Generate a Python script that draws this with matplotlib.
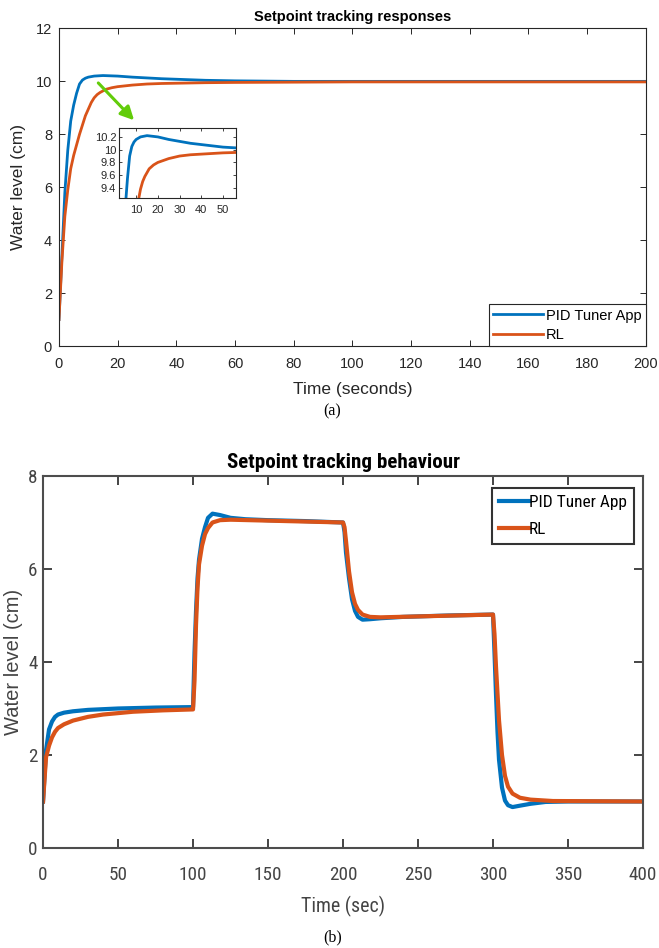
import numpy as np
import matplotlib.pyplot as plt
from matplotlib import font_manager
from matplotlib.font_manager import FontProperties

plt.rcParams['font.family'] = ['Liberation Sans', 'DejaVu Sans']

# (a) step response, setpoint 10 cm
t_a_pid = [0, 1, 2, 3, 4, 5, 6, 7, 8, 9, 10, 12, 15, 20, 25, 30, 35, 40, 45, 50,
           55, 60, 70, 80, 100, 150, 200]
pid_a = [1.0, 3.4, 5.8, 7.4, 8.5, 9.1, 9.55, 9.9, 10.05, 10.12, 10.16, 10.2, 10.22,
         10.2, 10.16, 10.13, 10.1, 10.08, 10.06, 10.04, 10.03, 10.02, 10.01, 10.0,
         10.0, 10.0, 10.0]
t_a_rl = [0, 1, 2, 3, 4, 5, 6, 7, 8, 9, 10, 11, 12, 13, 14, 16, 18, 20, 25, 30,
          35, 40, 50, 60, 80, 100, 150, 200]
rl_a = [1.0, 3.2, 4.9, 5.9, 6.7, 7.2, 7.6, 8.0, 8.35, 8.7, 8.95, 9.2, 9.38, 9.5,
        9.58, 9.7, 9.76, 9.8, 9.86, 9.9, 9.92, 9.93, 9.95, 9.96, 9.97, 9.98, 9.98, 9.98]

# (b) multi-step setpoint tracking
t_b_pid = [0, 2, 4, 6, 8, 10, 14, 20, 30, 50, 75, 100,
           101, 102, 103, 104, 106, 108, 110, 113, 118, 125, 135, 150, 175, 200,
           201, 202, 204, 206, 208, 210, 213, 218, 225, 240, 270, 300,
           301, 302, 303, 304, 306, 308, 310, 313, 318, 325, 335, 350, 400]
pid_b = [1.0, 2.1, 2.55, 2.72, 2.82, 2.87, 2.91, 2.94, 2.97, 3.0, 3.02, 3.03,
         4.2, 5.1, 5.8, 6.2, 6.65, 6.9, 7.1, 7.19, 7.16, 7.1, 7.07, 7.05, 7.03, 7.0,
         6.8, 6.35, 5.8, 5.35, 5.1, 4.97, 4.91, 4.92, 4.94, 4.97, 5.0, 5.02,
         4.2, 3.3, 2.5, 1.9, 1.3, 1.02, 0.92, 0.88, 0.91, 0.95, 0.99, 1.0, 1.0]
t_b_rl = [0, 2, 4, 6, 8, 10, 14, 20, 30, 40, 60, 80, 100,
          101, 102, 103, 104, 106, 108, 110, 113, 118, 125, 150, 175, 200,
          201, 202, 204, 206, 208, 210, 213, 218, 225, 250, 300,
          301, 302, 304, 306, 308, 310, 313, 318, 325, 340, 400]
rl_b = [1.0, 1.95, 2.2, 2.38, 2.5, 2.58, 2.66, 2.74, 2.82, 2.87, 2.93, 2.96, 2.98,
        3.6, 4.8, 5.6, 6.1, 6.5, 6.75, 6.88, 7.0, 7.05, 7.06, 7.04, 7.02, 7.0,
        6.9, 6.6, 5.95, 5.5, 5.25, 5.12, 5.02, 4.97, 4.96, 4.98, 5.02,
        4.6, 3.9, 2.75, 2.0, 1.55, 1.32, 1.17, 1.08, 1.04, 1.01, 1.0]

labels = ['PID Tuner App', 'RL']
BLUE = '#0072BD'
ORANGE = '#D95319'
DARK = '#262626'
GRAY = '#444444'


def find_font(bold):
    # a narrow sans if one is installed, else plain Liberation Sans
    for name in ['Liberation Sans Narrow', 'Arial Narrow', 'Roboto Condensed',
                 'Open Sans Condensed']:
        for f in font_manager.fontManager.ttflist:
            w = f.weight
            is_bold = w == 'bold' or (isinstance(w, int) and w >= 600)
            if f.name == name and is_bold == bold and f.style == 'normal':
                return FontProperties(fname=f.fname)
    return FontProperties(family='Liberation Sans', weight='bold' if bold else 'normal')


fig = plt.figure(figsize=(6.59, 9.48), dpi=100)
renderer = fig.canvas.get_renderer()


def fitted(text, width_px, bold=False):
    # font size that makes the text about width_px wide
    fp = find_font(bold)
    fp.set_size(10)
    t = fig.text(0, 0, text, fontproperties=fp)
    w = t.get_window_extent(renderer).width
    t.remove()
    fp.set_size(10 * width_px / w)
    return fp


# ---- panel (a)
ax1 = fig.add_axes([0.0895, 0.635, 0.8905, 0.335])
ax1.plot(t_a_pid, pid_a, color=BLUE, lw=2.0, label=labels[0])
ax1.plot(t_a_rl, rl_a, color=ORANGE, lw=2.0, label=labels[1])
ax1.set_xlim(0, 200)
ax1.set_ylim(0, 12)
ax1.set_xticks(range(0, 201, 20))
ax1.set_yticks(range(0, 13, 2))
ax1.tick_params(direction='in', top=True, right=True, length=4, width=0.7,
                labelsize=10.5, colors=DARK)
ax1.tick_params(axis='x', pad=8)
ax1.tick_params(axis='y', pad=5)
for s in ax1.spines.values():
    s.set_color(DARK)
    s.set_linewidth(0.8)
ax1.set_title('Setpoint tracking responses', fontsize=10.5, fontweight='bold', pad=5)
ax1.set_xlabel('Time (seconds)', fontsize=12.5, color=DARK, va='center')
ax1.set_ylabel('Water level (cm)', fontsize=12.5, color=DARK)
ax1.xaxis.set_label_coords(0.5, -0.138)
ax1.yaxis.set_label_coords(-0.056, 0.5)
leg = ax1.legend(loc='lower right', borderaxespad=0, fontsize=10.5, fancybox=False,
                 edgecolor=DARK, framealpha=1, handlelength=3.4, handletextpad=0.2,
                 labelspacing=0.35, borderpad=0.3)
leg.get_frame().set_linewidth(0.8)

ax1.annotate('', xy=(25.6, 8.53), xytext=(13.4, 9.94),
             arrowprops=dict(arrowstyle='-|>', color='#62CC0A', lw=2.2,
                             mutation_scale=20, shrinkA=0, shrinkB=0))

axin = fig.add_axes([0.1806, 0.791, 0.1775, 0.074])
axin.plot(t_a_pid, pid_a, color=BLUE, lw=2.0)
axin.plot(t_a_rl, rl_a, color=ORANGE, lw=2.0)
axin.set_xlim(2.1, 56)
axin.set_ylim(9.24, 10.34)
axin.set_xticks(range(10, 51, 10))
axin.set_yticks([9.4, 9.6, 9.8, 10, 10.2])
axin.set_yticklabels(['9.4', '9.6', '9.8', '10', '10.2'])
axin.tick_params(direction='in', top=True, right=True, length=2.5, width=0.6,
                 labelsize=8, colors=DARK)
axin.tick_params(axis='x', pad=5)
axin.tick_params(axis='y', pad=2)
for s in axin.spines.values():
    s.set_color(DARK)
    s.set_linewidth(0.8)

fig.text(0.504, 1 - 411 / 948, '(a)', ha='center', va='center',
         family='Liberation Serif', fontsize=11.5)

# ---- panel (b)
ax2 = fig.add_axes([0.0653, 0.1055, 0.9104, 0.3924])
ax2.plot(t_b_pid, pid_b, color=BLUE, lw=3.0, label=labels[0])
ax2.plot(t_b_rl, rl_b, color=ORANGE, lw=3.0, label=labels[1])
ax2.set_xlim(0, 400)
ax2.set_ylim(0, 8)
ax2.set_xticks(range(0, 401, 50))
ax2.set_yticks(range(0, 9, 2))
ax2.tick_params(direction='in', top=True, right=True, length=6.5, width=1.4,
                colors=GRAY)
ax2.tick_params(axis='x', pad=13)
ax2.tick_params(axis='y', pad=4)
tick_fp = fitted('100', 28)
for lbl in ax2.get_xticklabels() + ax2.get_yticklabels():
    lbl.set_fontproperties(tick_fp)
for s in ax2.spines.values():
    s.set_color('#4d4d4d')
    s.set_linewidth(1.5)
ax2.set_title('Setpoint tracking behaviour',
              fontproperties=fitted('Setpoint tracking behaviour', 233, bold=True),
              pad=6)
ax2.set_xlabel('Time (sec)', fontproperties=fitted('Time (sec)', 83), color=GRAY,
               va='center')
ax2.set_ylabel('Water level (cm)', fontsize=14.5, color=GRAY)
ax2.xaxis.set_label_coords(0.5, -0.158)
ax2.yaxis.set_label_coords(-0.034, 0.5)
leg2 = ax2.legend(loc='upper right', bbox_to_anchor=(0.985, 0.968), borderaxespad=0,
                  prop=fitted('PID Tuner App', 97), fancybox=False, edgecolor='#333333',
                  framealpha=1, handlelength=1.75, handletextpad=0.0, labelspacing=0.7,
                  borderpad=0.42)
leg2.get_frame().set_linewidth(1.5)
for line in leg2.get_lines():
    line.set_linewidth(3.0)

fig.text(0.504, 1 - 937 / 948, '(b)', ha='center', va='center',
         family='Liberation Serif', fontsize=11.5)

fig.savefig('out.png', dpi=100)
plt.close(fig)
